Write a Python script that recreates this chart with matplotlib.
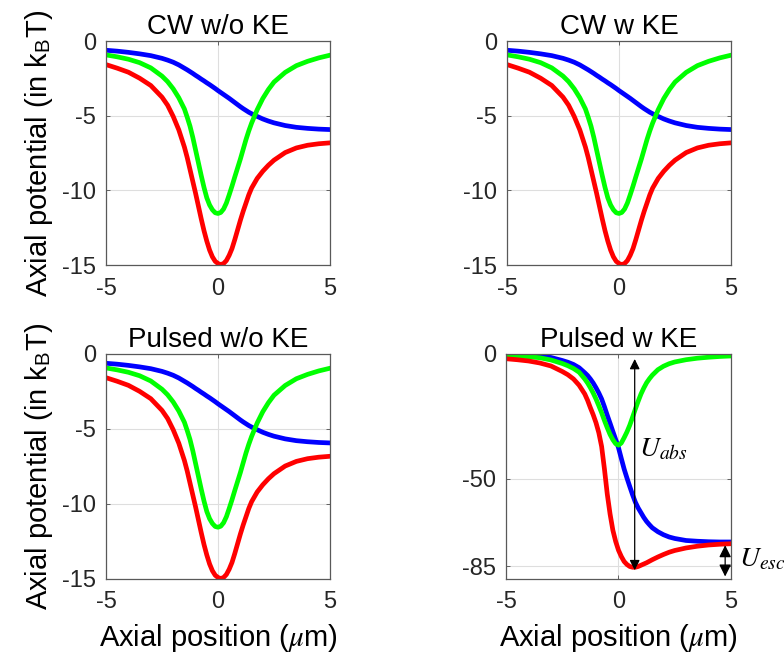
import matplotlib.pyplot as plt

plt.rcParams['font.family'] = ['Liberation Sans', 'DejaVu Sans']
plt.rcParams['mathtext.fontset'] = 'stix'
plt.rcParams['axes.unicode_minus'] = False

# axial positions (um) where the curves were read
x_pos = [-5, -4.5, -4, -3.5, -3, -2.5, -2.25, -2, -1.75, -1.5, -1.375, -1.25, -1.125, -1,
         -0.875, -0.75, -0.625, -0.5, -0.375, -0.25, -0.125, 0, 0.125, 0.25, 0.375, 0.5,
         0.625, 0.75, 0.875, 1, 1.125, 1.25, 1.375, 1.5, 1.75, 2, 2.25, 2.5, 3, 3.5, 4, 4.5, 5]

# CW w/o KE, CW w KE, Pulsed w/o KE (all three look the same), in kBT
blue_cw = [-0.62, -0.68, -0.76, -0.86, -0.98, -1.16, -1.28, -1.42, -1.6, -1.82, -1.93, -2.05, -2.17, -2.3,
           -2.42, -2.55, -2.67, -2.8, -2.92, -3.05, -3.18, -3.32, -3.45, -3.58, -3.71, -3.84,
           -3.98, -4.12, -4.26, -4.4, -4.53, -4.65, -4.77, -4.87, -5.05, -5.22, -5.36, -5.48, -5.66, -5.78, -5.85, -5.9, -5.93]
green_cw = [-0.93, -1.06, -1.22, -1.45, -1.8, -2.35, -2.72, -3.2, -3.8, -4.55, -5.1, -5.7, -6.45, -7.3,
            -8.15, -9.0, -9.8, -10.5, -10.98, -11.3, -11.5, -11.55, -11.48, -11.25, -10.85, -10.3,
            -9.72, -9.1, -8.5, -7.9, -7.25, -6.6, -6.02, -5.5, -4.6, -3.85, -3.25, -2.75, -2.1, -1.65, -1.36, -1.13, -0.95]
red_cw = [-1.58, -1.82, -2.09, -2.49, -2.98, -3.76, -4.3, -5.05, -5.95, -7.1, -7.8, -8.6, -9.4, -10.2,
          -11.05, -11.9, -12.7, -13.4, -14.0, -14.45, -14.75, -14.9, -14.97, -14.9, -14.7, -14.35,
          -13.9, -13.3, -12.65, -12.0, -11.4, -10.85, -10.3, -9.85, -9.2, -8.72, -8.32, -7.98, -7.47, -7.16, -6.98, -6.88, -6.82]

# Pulsed w KE
blue_ke = [-0.2, -0.3, -0.45, -0.8, -1.4, -2.6, -3.3, -4.2, -5.5, -7.5, -8.6, -10.0, -11.6, -13.5,
           -15.6, -18.0, -21.1, -24.5, -27.7, -31.0, -34.2, -37.5, -41.8, -46.0, -49.6, -53.0,
           -56.3, -59.3, -61.6, -63.5, -65.4, -67.0, -68.3, -69.5, -71.1, -72.3, -73.2, -73.8, -74.6, -74.9, -75.1, -75.2, -75.2]
green_ke = [-0.6, -0.8, -1.1, -1.5, -2.4, -3.8, -4.7, -5.8, -7.3, -10.0, -11.6, -13.5, -15.6, -18.0,
            -20.7, -23.5, -26.6, -29.5, -32.2, -34.3, -35.9, -36.5, -35.6, -33.5, -31.2, -28.5,
            -25.3, -22.0, -18.9, -16.0, -13.6, -11.5, -9.9, -8.5, -6.3, -4.9, -3.9, -3.2, -2.3, -1.7, -1.3, -1.0, -0.8]
red_ke = [-1.9, -2.3, -2.8, -3.6, -4.8, -7.0, -8.3, -10.0, -12.5, -16.0, -18.5, -21.5, -24.3, -27.5,
          -31.5, -37.0, -46.0, -56.0, -64.0, -70.5, -75.0, -78.5, -81.0, -83.0, -84.2, -85.0,
          -85.3, -85.3, -85.0, -84.5, -84.0, -83.5, -82.9, -82.3, -81.2, -80.2, -79.3, -78.6, -77.6, -76.9, -76.4, -76.1, -75.9]

titles = ['CW w/o KE', 'CW w KE', 'Pulsed w/o KE', 'Pulsed w KE']
cw_yticks = [-15, -10, -5, 0]
ke_yticks = [-85, -50, 0]

# arrows in the last panel: (x, y_start, y_end)
u_abs = (0.72, -2.0, -86.5)
u_esc = (4.74, -76.5, -89.0)

fig = plt.figure(figsize=(7.84, 6.56), dpi=100)
ax1 = fig.add_axes([0.1352, 0.5960, 0.2857, 0.3415])
ax2 = fig.add_axes([0.6467, 0.5960, 0.2857, 0.3415])
ax3 = fig.add_axes([0.1352, 0.1174, 0.2857, 0.3430])
ax4 = fig.add_axes([0.6454, 0.1174, 0.2870, 0.3430])
axs = [ax1, ax2, ax3, ax4]

curves = [(blue_cw, green_cw, red_cw)] * 3 + [(blue_ke, green_ke, red_ke)]

for ax, title, (b, g, r) in zip(axs, titles, curves):
    ax.plot(x_pos, b, color=(0, 0, 1), lw=3.4, solid_joinstyle='round')
    ax.plot(x_pos, g, color=(0, 1, 0), lw=3.4, solid_joinstyle='round')
    ax.plot(x_pos, r, color=(1, 0, 0), lw=3.4, solid_joinstyle='round')
    ax.set_xlim(-5, 5)
    ax.set_xticks([-5, 0, 5])
    ax.set_title(title, fontsize=20, pad=5)
    ax.grid(True, color='0.87', lw=0.8)
    ax.set_axisbelow(True)
    ax.tick_params(direction='in', length=3, width=0.6, color='0.3', top=True, right=True,
                   labelsize=17, labelcolor='0.15')
    ax.tick_params(axis='x', pad=9)
    ax.tick_params(axis='y', pad=7)
    for s in ax.spines.values():
        s.set_color('0.35')
        s.set_linewidth(0.9)

for ax in [ax1, ax2, ax3]:
    ax.set_ylim(-15, 0)
    ax.set_yticks(cw_yticks)

ax4.set_ylim(-90, 0)
ax4.set_yticks(ke_yticks)

for ax in [ax1, ax3]:
    ax.set_ylabel(r'Axial potential (in k$_\mathregular{B}$T)', fontsize=21, labelpad=5)
for ax in [ax3, ax4]:
    ax.set_xlabel(r'Axial position ($\mu$m)', fontsize=21, labelpad=6)

# energy arrows
ax4.annotate('', xy=(u_abs[0], u_abs[1]), xytext=(u_abs[0], u_abs[2]),
             arrowprops=dict(arrowstyle='<|-|>', color='k', lw=0.9, mutation_scale=15,
                             shrinkA=0, shrinkB=0))
ax4.annotate('', xy=(u_esc[0], u_esc[1]), xytext=(u_esc[0], u_esc[2]),
             arrowprops=dict(arrowstyle='<|-|>', color='k', lw=0.9, mutation_scale=18,
                             shrinkA=0, shrinkB=0), annotation_clip=False)
ax4.text(0.9, -38, r'$U_{abs}$', fontsize=20, ha='left', va='center')
ax4.text(5.35, -82.3, r'$U_{esc}$', fontsize=20, ha='left', va='center', clip_on=False)

fig.savefig('out.png', dpi=100)
